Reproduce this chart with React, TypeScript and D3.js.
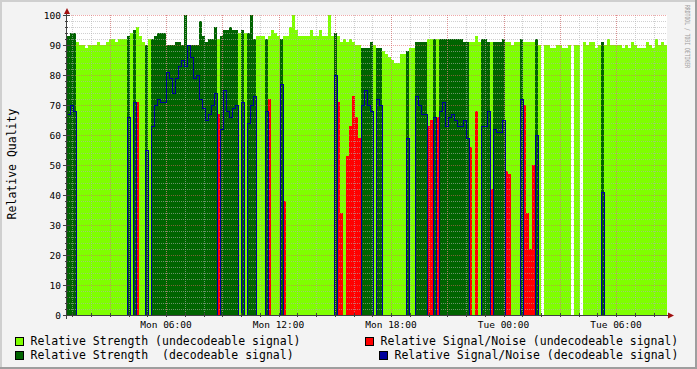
import React from 'react';
import * as d3 from 'd3';

// Relative strength per 9.6-minute sample (null = no data)
const strength: (number | null)[] = [
  93, 94, 94, 91, 90, 90, 89, 90, 90, 90,
  91, 90, 90, 91, 92, 92, 91, 92, 92, 92,
  93, 94, 95, 96, 93, 91, 90, 92, 92, 93,
  94, 94, 94, 90, 90, 90, 91, 91, 90, 100,
  90, 90, 90, 90, 98, 93, 91, 92, 92, 96,
  92, 93, 95, 95, 96, 95, 95, 94, 95, 94,
  94, 100, 92, 93, 93, 93, 92, 93, 95, 94,
  93, 92, 93, 93, 96, 100, 95, 93, 93, 93,
  93, 95, 93, 93, 95, 93, 93, 100, 93, 94,
  93, 91, 92, 91, 92, 91, 90, 90, 89, 89,
  89, 91, 90, 89, 89, 88, 87, 86, 85, 84,
  84, 87, 87, 88, 89, 89, 91, 91, 91, 91,
  92, 92, 92, 92, 92, 92, 92, 92, 92, 92,
  92, 92, 91, 91, 91, 91, 93, 91, 92, 92,
  91, 91, 91, 91, 91, 92, 91, 91, 90, 91,
  91, 92, 91, 91, 91, 91, 92, 90, null, 90,
  90, 89, 89, 90, 90, 89, 89, 90, null, 90,
  90, null, 91, 90, 91, 91, 89, 90, 91, 90,
  92, 90, 90, 90, 90, 89, 90, 89, 91, 90,
  89, 89, 89, 91, 90, 89, 92, 90, 91, 90,
];

// 1 = decodeable signal, 0 = undecodeable
const decodeable: number[] = [
  1, 1, 1, 0, 0, 0, 0, 0, 0, 0,
  0, 0, 0, 0, 0, 0, 0, 0, 0, 0,
  1, 0, 1, 0, 0, 0, 1, 0, 1, 1,
  1, 1, 1, 1, 1, 1, 1, 1, 1, 1,
  1, 1, 1, 1, 1, 1, 1, 1, 1, 1,
  0, 1, 1, 1, 1, 1, 1, 0, 1, 0,
  1, 1, 1, 0, 0, 0, 1, 0, 0, 0,
  0, 1, 0, 0, 0, 0, 0, 0, 0, 0,
  0, 0, 0, 0, 0, 0, 0, 0, 0, 1,
  0, 0, 0, 0, 0, 0, 0, 0, 1, 1,
  1, 1, 0, 1, 1, 0, 0, 0, 0, 0,
  0, 0, 0, 1, 0, 0, 1, 1, 1, 1,
  0, 0, 1, 0, 1, 1, 1, 1, 1, 1,
  1, 1, 1, 1, 0, 0, 0, 0, 1, 1,
  1, 0, 1, 1, 1, 1, 0, 0, 0, 0,
  0, 1, 0, 0, 0, 0, 1, 0, 0, 0,
  0, 0, 0, 0, 0, 0, 0, 0, 0, 0,
  0, 0, 0, 0, 0, 0, 0, 0, 1, 0,
  0, 0, 0, 0, 0, 0, 0, 0, 0, 0,
  0, 0, 0, 0, 0, 0, 0, 0, 0, 0,
];

// Relative signal/noise per sample (0 = none)
const snr: number[] = [
  67, 70, 68, 0, 0, 0, 0, 0, 0, 0,
  0, 0, 0, 0, 0, 0, 0, 0, 0, 0,
  66, 0, 71, 71, 0, 0, 55, 0, 63, 70,
  72, 71, 71, 81, 79, 74, 79, 83, 85, 83,
  90, 86, 79, 80, 72, 69, 65, 67, 70, 74,
  67, 62, 75, 68, 66, 69, 70, 0, 71, 0,
  64, 70, 73, 0, 0, 0, 68, 72, 0, 0,
  0, 77, 38, 0, 0, 0, 0, 0, 0, 0,
  0, 0, 0, 0, 0, 0, 0, 0, 0, 80,
  71, 34, 0, 53, 63, 73, 66, 59, 70, 75,
  70, 68, 0, 72, 70, 0, 0, 0, 0, 0,
  0, 0, 0, 59, 0, 0, 73, 70, 67, 67,
  63, 65, 66, 66, 68, 71, 63, 66, 67, 65,
  63, 63, 65, 59, 56, 0, 68, 0, 63, 63,
  68, 42, 62, 61, 61, 65, 48, 47, 0, 0,
  0, 72, 70, 34, 22, 50, 60, 0, 0, 0,
  0, 0, 0, 0, 0, 0, 0, 0, 0, 0,
  0, 0, 0, 0, 0, 0, 0, 0, 41, 0,
  0, 0, 0, 0, 0, 0, 0, 0, 0, 0,
  0, 0, 0, 0, 0, 0, 0, 0, 0, 0,
];

const yTicks = [0, 10, 20, 30, 40, 50, 60, 70, 80, 90, 100];
const legendLabels = [
  'Relative Strength (undecodeable signal)',
  'Relative Strength  (decodeable signal)',
  'Relative Signal/Noise (undecodeable signal)',
  'Relative Signal/Noise (decodeable signal)',
];
const yTitle = 'Relative Quality';
const watermark = 'RRDTOOL / TOBI OETIKER';

const W = 697, H = 369;
const C_LIGHT = '#7fff00', C_DARK = '#006400', C_RED = '#ff0000', C_BLUE = '#00009c';
const FONT = 'DejaVu Sans Mono, monospace';

const start = Date.UTC(2024, 0, 1, 0, 43, 12); // Monday
const stepMs = 9.6 * 60 * 1000;

export default function App() {
  const N = strength.length;
  const times = d3.range(N + 1).map((i) => new Date(start + i * stepMs));
  const x = d3.scaleUtc().domain([times[0], times[N]]).range([67, 667]);
  const y = d3.scaleLinear().domain([0, 100]).range([315, 15]);

  const hours = d3.utcHour.range(times[0], times[N]);
  const majorHours = hours.filter((d) => d.getUTCHours() % 3 === 0);
  const labelHours = hours.filter((d) => d.getUTCHours() % 6 === 0);
  const fmt = d3.utcFormat('%a %H:%M');

  const minorY = d3.range(0, 101, 2).filter((v) => v % 10 !== 0);

  const bluePts: [number, number][] = [];
  for (let i = 0; i < N; i++) {
    const v = decodeable[i] && strength[i] != null ? snr[i] : 0;
    bluePts.push([x(times[i]), y(v)]);
  }
  bluePts.push([x(times[N]), bluePts[N - 1][1]]);
  const blueLine = d3.line().curve(d3.curveStepAfter)(bluePts) || '';

  const rx = (i: number) => Math.round(x(times[i]));
  const rw = (i: number) => Math.round(x(times[i + 1])) - Math.round(x(times[i]));

  return (
    <svg width={W} height={H} style={{ position: 'absolute', left: 0, top: 0 }} xmlns="http://www.w3.org/2000/svg">
      <rect x={0} y={0} width={W} height={H} fill="#f3f3f3" />
      <rect x={0} y={0} width={W} height={2} fill="#cfcfcf" />
      <rect x={0} y={0} width={2} height={H} fill="#cfcfcf" />
      <rect x={0} y={H - 2} width={W} height={2} fill="#9e9e9e" />
      <rect x={W - 2} y={0} width={2} height={H} fill="#9e9e9e" />
      <rect x={67} y={15} width={600} height={300} fill="#ffffff" />

      <g shapeRendering="crispEdges">
        {strength.map((s, i) =>
          s == null ? null : (
            <rect key={'s' + i} x={rx(i)} y={y(s)} width={rw(i)} height={y(0) - y(s)}
              fill={decodeable[i] ? C_DARK : C_LIGHT} />
          )
        )}
        {snr.map((v, i) =>
          !decodeable[i] && v > 0 ? (
            <rect key={'r' + i} x={rx(i)} y={y(v)} width={rw(i)} height={y(0) - y(v)} fill={C_RED} />
          ) : null
        )}
      </g>

      <g shapeRendering="crispEdges" strokeDasharray="1,1">
        {minorY.map((v) => (
          <line key={'my' + v} x1={67} x2={667} y1={y(v) + 0.5} y2={y(v) + 0.5} stroke="#b0b0b0" strokeOpacity={0.6} />
        ))}
        {hours.map((d, i) => (
          <line key={'mx' + i} x1={Math.round(x(d)) + 0.5} x2={Math.round(x(d)) + 0.5} y1={15} y2={315} stroke="#b0b0b0" strokeOpacity={0.6} />
        ))}
        {yTicks.map((v) => (
          <line key={'My' + v} x1={67} x2={667} y1={y(v) + 0.5} y2={y(v) + 0.5} stroke="#e06060" strokeOpacity={0.55} />
        ))}
        {majorHours.map((d, i) => (
          <line key={'Mx' + i} x1={Math.round(x(d)) + 0.5} x2={Math.round(x(d)) + 0.5} y1={15} y2={315} stroke="#e06060" strokeOpacity={0.55} />
        ))}
      </g>

      <path d={blueLine} transform="translate(0.5,0.5)" fill="none" stroke={C_BLUE} strokeWidth={1} shapeRendering="crispEdges" />

      <g shapeRendering="crispEdges" stroke="#404040">
        <line x1={66.5} x2={66.5} y1={10} y2={319} />
        <line x1={63} x2={670} y1={315.5} y2={315.5} />
        {yTicks.map((v) => (
          <line key={'ty' + v} x1={63} x2={70} y1={y(v) + 0.5} y2={y(v) + 0.5} />
        ))}
        {minorY.map((v) => (
          <line key={'tmy' + v} x1={65} x2={68} y1={y(v) + 0.5} y2={y(v) + 0.5} />
        ))}
        {hours.map((d, i) => (
          <line key={'tx' + i} x1={Math.round(x(d)) + 0.5} x2={Math.round(x(d)) + 0.5} y1={313} y2={317} />
        ))}
      </g>
      <path d="M67,8 L64,14 L70,14 Z" fill="#a01010" />
      <path d="M674,315.5 L668,312.5 L668,318.5 Z" fill="#a01010" />

      <g fontFamily={FONT} fontSize={9.5} fill="#000">
        {yTicks.map((v) => (
          <text key={'ly' + v} x={61} y={y(v) + 3.5} textAnchor="end">{v}</text>
        ))}
        {labelHours.map((d, i) => (
          <text key={'lx' + i} x={x(d)} y={327.5} textAnchor="middle">{fmt(d)}</text>
        ))}
      </g>

      <text transform="translate(15.5,164) rotate(-90)" textAnchor="middle" fontFamily={FONT} fontSize={11.5}>{yTitle}</text>

      <text transform="translate(684.5,5) rotate(90)" fontFamily={FONT} fontSize={7} fill="#a0a0a0"
        textLength={63} lengthAdjust="spacingAndGlyphs">{watermark}</text>

      <g fontFamily={FONT} fontSize={11.5} style={{ whiteSpace: 'pre' }}>
        <rect x={15.5} y={337.5} width={8} height={8} fill={C_LIGHT} stroke="#000" />
        <text x={30.5} y={345} xmlSpace="preserve">{legendLabels[0]}</text>
        <rect x={15.5} y={351.5} width={8} height={8} fill={C_DARK} stroke="#000" />
        <text x={30.5} y={359} xmlSpace="preserve">{legendLabels[1]}</text>
        <rect x={365.5} y={337.5} width={8} height={8} fill={C_RED} stroke="#000" />
        <text x={380.5} y={345} xmlSpace="preserve">{legendLabels[2]}</text>
        <rect x={379.5} y={351.5} width={8} height={8} fill={C_BLUE} stroke="#000" />
        <text x={394.5} y={359} xmlSpace="preserve">{legendLabels[3]}</text>
      </g>
    </svg>
  );
}
